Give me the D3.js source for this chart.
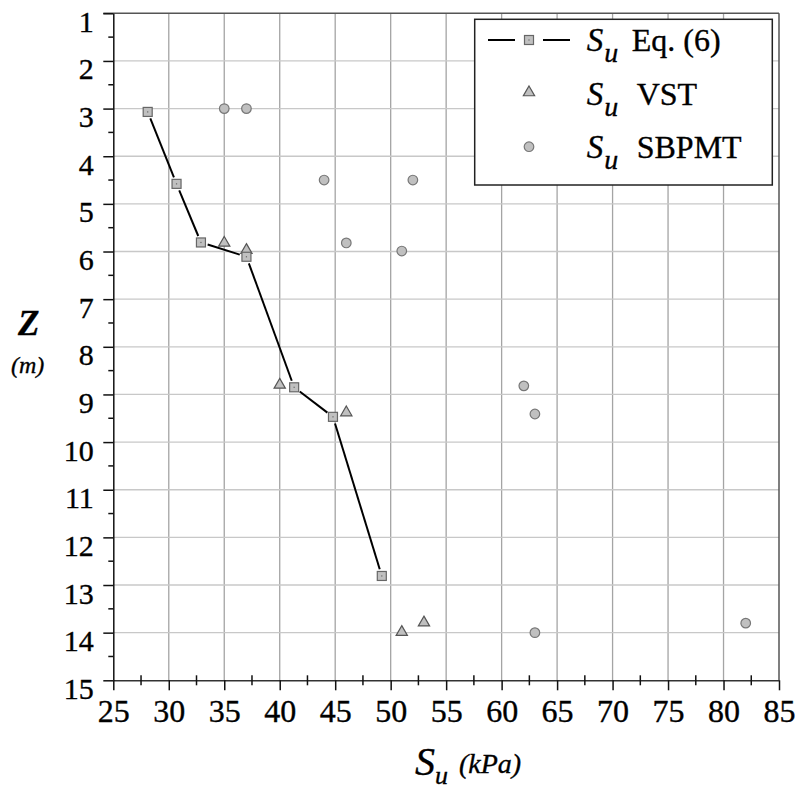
<!DOCTYPE html>
<html>
<head>
<meta charset="utf-8">
<script src="https://cdn.jsdelivr.net/npm/d3@7"></script>
<style>
  body { margin: 0; background: #fff; }
  svg { display: block; }
  svg text { font-family: "Liberation Serif", "Times New Roman", serif; fill: #000; stroke: #000; stroke-width: 0.35px; }
</style>
</head>
<body>
<div id="chart"></div>
<script>
// Eq. (6) curve
const eqSu = [28.1, 30.7, 32.9, 37.0, 41.3, 44.8, 49.2];
const eqZ  = [3.07, 4.58, 5.81, 6.11, 8.85, 9.47, 12.81];
// vane shear test
const vstSu = [35, 37, 40, 46, 51, 53];
const vstZ  = [5.82, 5.97, 8.8, 9.38, 13.99, 13.79];
// SBPMT
const sbSu = [35, 37, 44, 52, 46, 51, 62, 63, 63, 82];
const sbZ  = [3.0, 3.0, 4.5, 4.5, 5.82, 5.99, 8.82, 9.41, 14.0, 13.8];

const xTicks = d3.range(25, 86, 5);
const yTicks = d3.range(1, 16, 1);
const xMinor = d3.range(27.5, 85, 5);
const yMinor = d3.range(1.5, 15, 1);

const W = 798, H = 789;
const plot = { left: 113.3, right: 779, top: 13.3, bottom: 680.3 };

const svg = d3.select("#chart").append("svg")
    .attr("width", W)
    .attr("height", H);

svg.append("rect").attr("width", W).attr("height", H).attr("fill", "#fff");

const x = d3.scaleLinear().domain([25, 85]).range([plot.left, plot.right]);
const y = d3.scaleLinear().domain([1, 15]).range([plot.top, plot.bottom]);

// gridlines
const grid = svg.append("g");
grid.selectAll(".vg")
    .data(xTicks.slice(1, -1))
    .join("line")
    .attr("x1", d => x(d)).attr("x2", d => x(d))
    .attr("y1", plot.top).attr("y2", plot.bottom)
    .attr("stroke", "#a4a4a4").attr("stroke-width", 1.3);
grid.selectAll(".hg")
    .data(yTicks.slice(1, -1))
    .join("line")
    .attr("x1", plot.left).attr("x2", plot.right)
    .attr("y1", d => y(d)).attr("y2", d => y(d))
    .attr("stroke", "#c8c8c8").attr("stroke-width", 1.3);

// frame top / right
svg.append("line")
    .attr("x1", plot.left - 10).attr("x2", plot.right)
    .attr("y1", plot.top).attr("y2", plot.top)
    .attr("stroke", "#555").attr("stroke-width", 1.5);
svg.append("line")
    .attr("x1", plot.right).attr("x2", plot.right)
    .attr("y1", plot.top).attr("y2", plot.bottom)
    .attr("stroke", "#555").attr("stroke-width", 1.5);

// axes
const xAxis = svg.append("g")
    .attr("transform", `translate(0,${plot.bottom})`)
    .call(d3.axisBottom(x).tickValues(xTicks).tickSize(10).tickSizeOuter(0))
    .attr("font-family", null);
xAxis.select(".domain").attr("stroke", "#333").attr("stroke-width", 1.5);
xAxis.selectAll(".tick line").attr("stroke", "#111").attr("stroke-width", 1.5);
xAxis.selectAll(".tick text")
    .attr("y", 42).attr("dy", null)
    .style("font-size", "32px");

const yAxis = svg.append("g")
    .attr("transform", `translate(${plot.left},0)`)
    .call(d3.axisLeft(y).tickValues(yTicks).tickSize(10).tickSizeOuter(0))
    .attr("font-family", null);
yAxis.select(".domain").attr("stroke", "#111").attr("stroke-width", 1.5);
yAxis.selectAll(".tick line").attr("stroke", "#111").attr("stroke-width", 1.5);
yAxis.selectAll(".tick text")
    .attr("x", -19.5).attr("y", 18).attr("dy", null)
    .style("font-size", "30px");

// minor ticks
svg.append("g").selectAll("line")
    .data(xMinor)
    .join("line")
    .attr("x1", d => x(d)).attr("x2", d => x(d))
    .attr("y1", plot.bottom - 5).attr("y2", plot.bottom + 5)
    .attr("stroke", "#111").attr("stroke-width", 1.5);
svg.append("g").selectAll("line")
    .data(yMinor)
    .join("line")
    .attr("x1", plot.left - 5).attr("x2", plot.left)
    .attr("y1", d => y(d)).attr("y2", d => y(d))
    .attr("stroke", "#111").attr("stroke-width", 1.5);

// Eq. (6) line, broken short of each marker
const eqPts = eqSu.map((s, i) => [x(s), y(eqZ[i])]);
const gap = 7;
const segs = d3.pairs(eqPts).map(([a, b]) => {
    const dx = b[0] - a[0], dy = b[1] - a[1];
    const len = Math.hypot(dx, dy);
    const ux = dx / len, uy = dy / len;
    return [a[0] + ux * gap, a[1] + uy * gap, b[0] - ux * gap, b[1] - uy * gap];
});
svg.append("g").selectAll("line")
    .data(segs)
    .join("line")
    .attr("x1", d => d[0]).attr("y1", d => d[1])
    .attr("x2", d => d[2]).attr("y2", d => d[3])
    .attr("stroke", "#000").attr("stroke-width", 2);

const markerFill = "#c0c0c0";
const markerStroke = "#666";

function drawSquare(g, cx, cy) {
    g.append("rect")
        .attr("x", cx - 4.5).attr("y", cy - 4.5)
        .attr("width", 9).attr("height", 9)
        .attr("fill", markerFill).attr("stroke", markerStroke).attr("stroke-width", 1.2);
    g.append("rect")
        .attr("x", cx - 0.6).attr("y", cy - 0.6)
        .attr("width", 1.2).attr("height", 1.2)
        .attr("fill", "#666");
}
const triPath = d3.symbol().type(d3.symbolTriangle).size(55);
function drawTriangle(g, cx, cy) {
    g.append("path")
        .attr("d", triPath())
        .attr("transform", `translate(${cx},${cy})`)
        .attr("fill", markerFill).attr("stroke", "#555").attr("stroke-width", 1.2);
}
function drawCircle(g, cx, cy) {
    g.append("circle")
        .attr("cx", cx).attr("cy", cy).attr("r", 4.8)
        .attr("fill", markerFill).attr("stroke", "#777").attr("stroke-width", 1.2);
}

const marks = svg.append("g");
sbSu.forEach((s, i) => drawCircle(marks, x(s), y(sbZ[i])));
vstSu.forEach((s, i) => drawTriangle(marks, x(s), y(vstZ[i])));
eqSu.forEach((s, i) => drawSquare(marks, x(s), y(eqZ[i])));

// legend
const legend = svg.append("g");
legend.append("rect")
    .attr("x", 474.7).attr("y", 19.3)
    .attr("width", 297.6).attr("height", 165.7)
    .attr("fill", "#fff").attr("stroke", "#222").attr("stroke-width", 1.5);
legend.append("line").attr("x1", 488).attr("x2", 515).attr("y1", 40).attr("y2", 40)
    .attr("stroke", "#000").attr("stroke-width", 2);
legend.append("line").attr("x1", 543).attr("x2", 570).attr("y1", 40).attr("y2", 40)
    .attr("stroke", "#000").attr("stroke-width", 2);
drawSquare(legend, 529, 40);
drawTriangle(legend, 529, 92.5);
drawCircle(legend, 529, 146.7);

const legendLabels = ["Eq. (6)", "VST", "SBPMT"];
const legendBase = [50.7, 104.5, 158.3];
const legendTextX = [631.7, 636.7, 636.7];
legendLabels.forEach((lab, i) => {
    const t = legend.append("text")
        .attr("x", 586.7).attr("y", legendBase[i])
        .style("font-style", "italic");
    t.append("tspan").style("font-size", "33px").text("S");
    t.append("tspan").attr("dx", 1).attr("dy", 11).style("font-size", "28px").text("u");
    legend.append("text")
        .attr("x", legendTextX[i]).attr("y", legendBase[i])
        .style("font-size", "32px")
        .text(lab);
});

// axis titles
svg.append("text")
    .attr("x", 18).attr("y", 335)
    .style("font-size", "35px").style("font-style", "italic").style("font-weight", "bold")
    .text("Z");
svg.append("text")
    .attr("x", 11).attr("y", 373)
    .style("font-size", "24px").style("font-style", "italic")
    .text("(m)");

const xt = svg.append("text")
    .attr("x", 415).attr("y", 775)
    .style("font-style", "italic");
xt.append("tspan").style("font-size", "40px").text("S");
xt.append("tspan").attr("dx", 0).attr("dy", 9).style("font-size", "26px").text("u");
svg.append("text")
    .attr("x", 459).attr("y", 773)
    .style("font-size", "28px").style("font-style", "italic")
    .text("(kPa)");
</script>
</body>
</html>
